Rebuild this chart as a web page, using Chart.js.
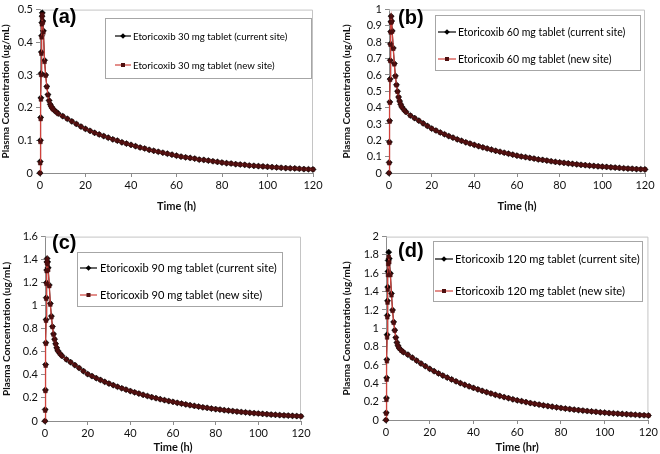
<!DOCTYPE html>
<html>
<head>
<meta charset="utf-8">
<script src="https://cdn.jsdelivr.net/npm/chart.js@4.4.0/dist/chart.umd.min.js"></script>
<style>
  body { margin: 0; background: #fff; }
  #wrap { position: relative; width: 660px; height: 454px; overflow: hidden; background: #fff; }
  canvas { position: absolute; }
  .tag { position: absolute; font: bold 20px "Liberation Sans", Arial, sans-serif; color: #000; }
  .legend { position: absolute; border: 1px solid #a6a6a6; background: #fff; box-sizing: border-box; }
  .row { position: absolute; left: 0; height: 14px; white-space: nowrap; font-family: Lato, sans-serif; color: #000; }
  .row svg { position: absolute; top: 3px; }
  .row span { position: absolute; top: 0; line-height: 14px; }
</style>
</head>
<body>
<div id="wrap">
  <canvas id="ca" width="330" height="227" style="left:0;top:0"></canvas>
  <canvas id="cb" width="330" height="227" style="left:330px;top:0"></canvas>
  <canvas id="cc" width="330" height="227" style="left:0;top:227px"></canvas>
  <canvas id="cd" width="330" height="227" style="left:330px;top:227px"></canvas>

  <div class="tag" style="left:52px;top:5px">(a)</div>
  <div class="tag" style="left:398px;top:6px">(b)</div>
  <div class="tag" style="left:52px;top:231px">(c)</div>
  <div class="tag" style="left:398px;top:239px">(d)</div>

  <div class="legend" id="la" style="left:105px;top:18px;width:207px;height:61px"></div>
  <div class="legend" id="lb" style="left:435px;top:15px;width:206px;height:56px"></div>
  <div class="legend" id="lc" style="left:77px;top:252px;width:206px;height:55px"></div>
  <div class="legend" id="ld" style="left:433px;top:241px;width:210px;height:61px"></div>
</div>
<script>
// sampling times (h)
const hours = [0, 0.1, 0.2, 0.3, 0.4, 0.5, 0.6, 0.7, 0.8, 0.9, 1, 1.25, 1.5, 2, 2.5, 3, 3.5, 4, 4.5, 5, 5.5, 6, 7, 8,
  10, 12, 14, 16, 18, 20, 22, 24, 26, 28, 30, 32, 34, 36, 38, 40, 42, 44, 46, 48, 50, 52, 54, 56, 58, 60,
  62, 64, 66, 68, 70, 72, 74, 76, 78, 80, 82, 84, 86, 88, 90, 92, 94, 96, 98, 100, 102, 104, 106, 108, 110,
  112, 114, 116, 118, 120];

// 30 mg (0-8 h per site, 10-120 h where both sites overlap)
const peak30Current = [0, 0.035, 0.10, 0.17, 0.23, 0.305, 0.37, 0.42, 0.46, 0.48, 0.49, 0.465, 0.435, 0.345, 0.30, 0.265, 0.24, 0.222, 0.21, 0.203, 0.198, 0.194, 0.188, 0.182];
const peak30New = [0, 0.03, 0.095, 0.165, 0.225, 0.30, 0.365, 0.415, 0.455, 0.475, 0.485, 0.46, 0.43, 0.34, 0.298, 0.263, 0.238, 0.221, 0.209, 0.202, 0.197, 0.193, 0.187, 0.181];
const tail30 = [0.174, 0.166, 0.158, 0.150, 0.142, 0.135, 0.129, 0.123, 0.118, 0.113, 0.108, 0.103, 0.099, 0.094, 0.090, 0.086,
  0.082, 0.078, 0.075, 0.071, 0.068, 0.065, 0.062, 0.059, 0.056, 0.053, 0.050, 0.048, 0.046, 0.044, 0.041, 0.040, 0.038,
  0.036, 0.034, 0.032, 0.030, 0.029, 0.027, 0.026, 0.025, 0.023, 0.022, 0.021, 0.020, 0.019, 0.018, 0.017, 0.016, 0.015,
  0.0145, 0.014, 0.013, 0.012, 0.0115, 0.011];

// 60 mg
const peak60Current = [0, 0.065, 0.19, 0.32, 0.435, 0.575, 0.69, 0.79, 0.865, 0.925, 0.96, 0.93, 0.87, 0.765, 0.67, 0.595, 0.54, 0.50, 0.465, 0.44, 0.42, 0.405, 0.388, 0.374];
const peak60New = [0, 0.06, 0.185, 0.315, 0.43, 0.57, 0.685, 0.785, 0.86, 0.92, 0.955, 0.925, 0.865, 0.76, 0.665, 0.59, 0.537, 0.497, 0.463, 0.438, 0.418, 0.403, 0.386, 0.372];
const tail60 = [0.352, 0.336, 0.320, 0.304, 0.288, 0.272, 0.260, 0.248, 0.237, 0.226, 0.216, 0.206, 0.197, 0.188, 0.180, 0.172,
  0.164, 0.157, 0.150, 0.143, 0.136, 0.130, 0.124, 0.118, 0.112, 0.106, 0.101, 0.097, 0.092, 0.088, 0.083, 0.080, 0.076,
  0.072, 0.068, 0.065, 0.062, 0.059, 0.056, 0.053, 0.050, 0.048, 0.045, 0.043, 0.041, 0.039, 0.037, 0.035, 0.033, 0.031,
  0.029, 0.027, 0.026, 0.024, 0.023, 0.022];

// 90 mg
const peak90Current = [0, 0.10, 0.27, 0.49, 0.68, 0.88, 1.07, 1.20, 1.31, 1.38, 1.41, 1.38, 1.33, 1.18, 1.02, 0.91, 0.82, 0.755, 0.71, 0.67, 0.635, 0.61, 0.585, 0.565];
const peak90New = [0, 0.09, 0.26, 0.48, 0.67, 0.87, 1.06, 1.19, 1.30, 1.37, 1.40, 1.36, 1.31, 1.17, 1.01, 0.90, 0.815, 0.75, 0.707, 0.668, 0.633, 0.608, 0.583, 0.563];
const tail90 = [0.535, 0.51, 0.485, 0.46, 0.433, 0.407, 0.39, 0.372, 0.356, 0.340, 0.325, 0.311, 0.297, 0.284, 0.272, 0.260,
  0.249, 0.238, 0.227, 0.217, 0.207, 0.198, 0.189, 0.181, 0.173, 0.166, 0.158, 0.151, 0.144, 0.137, 0.131, 0.125, 0.119,
  0.114, 0.108, 0.103, 0.099, 0.094, 0.090, 0.086, 0.082, 0.078, 0.075, 0.071, 0.068, 0.065, 0.062, 0.059, 0.056, 0.054,
  0.051, 0.049, 0.047, 0.045, 0.043, 0.041];

// 120 mg
const peak120Current = [0, 0.08, 0.24, 0.46, 0.66, 0.93, 1.14, 1.30, 1.45, 1.62, 1.74, 1.83, 1.76, 1.60, 1.38, 1.20, 1.07, 0.98, 0.90, 0.845, 0.81, 0.785, 0.76, 0.74];
const peak120New = [0, 0.07, 0.22, 0.44, 0.64, 0.90, 1.12, 1.28, 1.42, 1.58, 1.70, 1.78, 1.72, 1.58, 1.36, 1.19, 1.06, 0.975, 0.895, 0.842, 0.807, 0.783, 0.758, 0.738];
const tail120 = [0.712, 0.680, 0.648, 0.616, 0.587, 0.558, 0.532, 0.508, 0.485, 0.463, 0.442, 0.422, 0.402, 0.384, 0.367, 0.350,
  0.334, 0.318, 0.303, 0.289, 0.275, 0.262, 0.250, 0.238, 0.226, 0.215, 0.205, 0.195, 0.185, 0.176, 0.168, 0.160, 0.152,
  0.145, 0.138, 0.131, 0.125, 0.119, 0.113, 0.108, 0.103, 0.098, 0.093, 0.089, 0.084, 0.080, 0.076, 0.073, 0.069, 0.066,
  0.063, 0.060, 0.057, 0.054, 0.052, 0.049];

const xTicks = [0, 20, 40, 60, 80, 100, 120];
const yTicks30 = [0, 0.1, 0.2, 0.3, 0.4, 0.5];
const yTicks60 = [0, 0.1, 0.2, 0.3, 0.4, 0.5, 0.6, 0.7, 0.8, 0.9, 1];
const yTicks90 = [0, 0.2, 0.4, 0.6, 0.8, 1, 1.2, 1.4, 1.6];
const yTicks120 = [0, 0.2, 0.4, 0.6, 0.8, 1, 1.2, 1.4, 1.6, 1.8, 2];

const BLACK = '#000000';
const RED_LINE = '#d0423c';
const RED_MARK = '#4e0f0f';
const FONT = 'Lato, sans-serif';

function pts(vals) {
  return vals.map((v, i) => ({ x: hours[i], y: v }));
}

// light frame on top/right of plot area, like the Excel box
const frame = {
  id: 'frame',
  beforeDatasetsDraw(chart) {
    const a = chart.chartArea, c = chart.ctx;
    c.save();
    c.strokeStyle = '#c4c4c4';
    c.lineWidth = 1;
    c.beginPath();
    c.moveTo(a.left, a.top + 0.5);
    c.lineTo(a.right - 0.5, a.top + 0.5);
    c.lineTo(a.right - 0.5, a.bottom);
    c.stroke();
    c.restore();
  }
};

function panel(id, cur, neu, yTicks, xTitle, lay) {
  new Chart(document.getElementById(id), {
    type: 'scatter',
    data: {
      datasets: [
        {
          label: 'new site', data: pts(neu), showLine: true,
          borderColor: RED_LINE, borderWidth: 1.3, pointStyle: 'rect',
          pointRadius: 2.6, pointBackgroundColor: RED_MARK, pointBorderColor: RED_MARK, pointBorderWidth: 0.5,
          clip: false
        },
        {
          label: 'current site', data: pts(cur), showLine: true,
          borderColor: BLACK, borderWidth: 1, pointStyle: 'rectRot',
          pointRadius: 3.1, pointBackgroundColor: BLACK, pointBorderColor: BLACK, pointBorderWidth: 0.5,
          clip: false
        }
      ]
    },
    options: {
      responsive: false,
      animation: false,
      devicePixelRatio: 1,
      layout: { padding: { left: 0, right: lay.right, top: lay.top, bottom: lay.bottom } },
      plugins: { legend: { display: false }, tooltip: { enabled: false } },
      scales: {
        x: {
          type: 'linear', min: 0, max: 120,
          afterFit: s => { s.height = lay.xh; },
          afterBuildTicks: s => { s.ticks = xTicks.map(v => ({ value: v })); },
          grid: { drawOnChartArea: false, drawTicks: true, tickLength: 4, color: '#8c8c8c' },
          border: { color: '#8c8c8c' },
          ticks: { color: '#111', font: { family: FONT, size: 11 }, padding: 2, maxRotation: 0 },
          title: { display: true, text: xTitle, color: '#111', font: { family: FONT, size: 11, weight: 'bold' }, padding: { top: lay.xtp, bottom: 0 } }
        },
        y: {
          type: 'linear', min: 0, max: yTicks[yTicks.length - 1],
          afterFit: s => { s.width = lay.yw; },
          afterBuildTicks: s => { s.ticks = yTicks.map(v => ({ value: v })); },
          grid: { drawOnChartArea: false, drawTicks: true, tickLength: 4, color: '#8c8c8c' },
          border: { color: '#8c8c8c' },
          ticks: { color: '#111', font: { family: FONT, size: 11 }, padding: 3, callback: v => String(Math.round(v * 10) / 10) },
          title: { display: true, text: 'Plasma Concentration (ug/mL)', color: '#111', font: { family: FONT, size: 10, weight: 'bold' }, padding: { top: lay.ytp, bottom: 0 } }
        }
      }
    },
    plugins: [frame]
  });
}

panel('ca', peak30Current.concat(tail30), peak30New.concat(tail30), yTicks30, 'Time (h)', { yw: 40, right: 17, top: 7, bottom: 14, xh: 40, xtp: 1, ytp: 0 });
panel('cb', peak60Current.concat(tail60), peak60New.concat(tail60), yTicks60, 'Time (h)', { yw: 59, right: 15, top: 3, bottom: 14, xh: 40, xtp: 1, ytp: 11 });
panel('cc', peak90Current.concat(tail90), peak90New.concat(tail90), yTicks90, 'Time (h)', { yw: 45, right: 29, top: 4, bottom: 0, xh: 33, xtp: 0, ytp: 1 });
panel('cd', peak120Current.concat(tail120), peak120New.concat(tail120), yTicks120, 'Time (hr)', { yw: 56, right: 8, top: 7, bottom: 0, xh: 34, xtp: 0, ytp: 11 });

// legends: line + marker swatch and label text
function legend(id, dose, rows, lineX, textX, size) {
  const box = document.getElementById(id);
  const items = [
    { text: 'Etoricoxib ' + dose + ' mg tablet (current site)', line: BLACK, mark: BLACK, shape: 'diamond' },
    { text: 'Etoricoxib ' + dose + ' mg tablet (new site)', line: RED_LINE, mark: RED_MARK, shape: 'square' }
  ];
  items.forEach((it, i) => {
    const row = document.createElement('div');
    row.className = 'row';
    row.style.top = (rows[i] - 7) + 'px';
    row.style.fontSize = size + 'px';
    const w = lineX[1] - lineX[0];
    const m = w / 2;
    const shape = it.shape === 'diamond'
      ? `<path d="M${m} 1.2 L${m + 2.8} 4 L${m} 6.8 L${m - 2.8} 4 Z" fill="${it.mark}"/>`
      : `<rect x="${m - 2}" y="2" width="4" height="4" fill="${it.mark}"/>`;
    row.innerHTML = `<svg width="${w}" height="8" style="left:${lineX[0]}px"><line x1="0" y1="4" x2="${w}" y2="4" stroke="${it.line}" stroke-width="1.2"/>${shape}</svg>` +
      `<span style="left:${textX}px">${it.text}</span>`;
    box.appendChild(row);
  });
}

legend('la', 30, [17, 46], [9, 25], 27, 9.7);
legend('lb', 60, [16, 43], [2, 20], 22, 10.5);
legend('lc', 90, [15, 42], [2, 19], 22, 11.1);
legend('ld', 120, [17, 49], [1, 19], 21, 11.2);
</script>
</body>
</html>
